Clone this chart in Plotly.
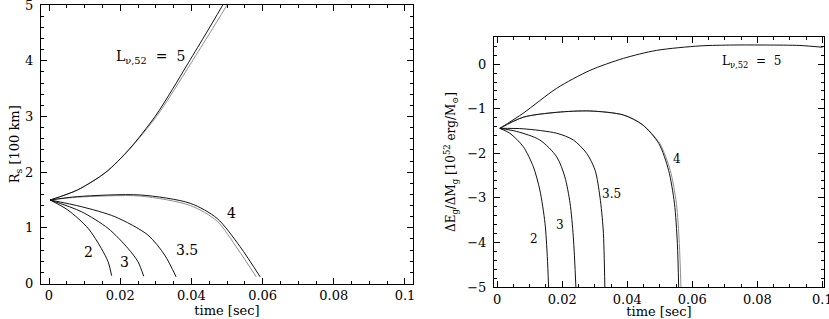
import plotly.graph_objects as go

# ---------------- Left panel: shock radius R_s [100 km] vs time [sec]
t_r_2 = [0.0003, 0.0053, 0.0110, 0.0147, 0.0166, 0.0176]
r_2 = [1.50, 1.32, 0.99, 0.63, 0.39, 0.14]

t_r_3 = [0.0003, 0.0091, 0.0166, 0.0222, 0.0250, 0.0266]
r_3 = [1.50, 1.29, 0.99, 0.63, 0.39, 0.13]

t_r_35 = [0.0003, 0.0091, 0.0185, 0.0278, 0.0325, 0.0357]
r_35 = [1.50, 1.38, 1.20, 0.87, 0.51, 0.12]

t_r_4a = [0.0003, 0.0080, 0.0256, 0.0397, 0.0472, 0.0537, 0.0593]
r_4a = [1.50, 1.56, 1.59, 1.44, 1.17, 0.66, 0.12]
t_r_4b = [0.0003, 0.0080, 0.0256, 0.0397, 0.0472, 0.0530, 0.0582]
r_4b = [1.50, 1.55, 1.57, 1.40, 1.12, 0.62, 0.12]

t_r_5a = [0.0003, 0.0080, 0.0160, 0.0225, 0.0298, 0.0346, 0.0392, 0.0442, 0.0488]
r_5a = [1.50, 1.68, 2.00, 2.41, 3.00, 3.48, 3.97, 4.50, 5.00]
t_r_5b = [0.0003, 0.0080, 0.0160, 0.0226, 0.0302, 0.0352, 0.0400, 0.0452, 0.0500]
r_5b = [1.50, 1.68, 2.00, 2.41, 3.00, 3.48, 3.97, 4.50, 5.00]

# ---------------- Right panel: dE_g/dM_g [1e52 erg/Msun] vs time [sec]
t_e_2 = [0.0008, 0.0039, 0.0080, 0.0111, 0.0131, 0.0147, 0.0154, 0.0158]
e_2 = [-1.44, -1.55, -1.85, -2.30, -2.82, -3.57, -4.32, -5.00]

t_e_3 = [0.0008, 0.0060, 0.0131, 0.0183, 0.0208, 0.0224, 0.0234, 0.0242]
e_3 = [-1.44, -1.51, -1.70, -2.08, -2.53, -3.12, -3.87, -5.00]

t_e_35 = [0.0008, 0.0080, 0.0183, 0.0234, 0.0275, 0.0301, 0.0316, 0.0326, 0.0331]
e_35 = [-1.44, -1.45, -1.55, -1.70, -2.00, -2.38, -2.98, -3.72, -5.00]

t_e_4a = [0.0008, 0.0080, 0.0183, 0.0285, 0.0388, 0.0447, 0.0497, 0.0527, 0.0545, 0.0554, 0.0558]
e_4a = [-1.44, -1.19, -1.08, -1.05, -1.14, -1.36, -1.78, -2.38, -3.12, -4.02, -5.00]
t_e_4b = [0.0008, 0.0080, 0.0183, 0.0285, 0.0388, 0.0447, 0.0500, 0.0532, 0.0551, 0.0560, 0.0565]
e_4b = [-1.44, -1.19, -1.08, -1.05, -1.14, -1.36, -1.78, -2.38, -3.12, -4.02, -5.00]

t_e_5 = [0.0008, 0.0080, 0.0183, 0.0285, 0.0388, 0.0490, 0.0624, 0.0726, 0.0829, 0.0931, 0.1000]
e_5 = [-1.44, -1.10, -0.54, -0.14, 0.13, 0.31, 0.41, 0.43, 0.43, 0.42, 0.38]

NB = "\u00a0"
LBL5 = "L<sub>ν,52</sub>" + NB + NB + "=" + NB + NB + "5"

# curve labels: (text, t, value)
left_labels = [(LBL5, 0.0284, 4.07), ("4", 0.0514, 1.26),
               ("3.5", 0.0387, 0.60), ("2", 0.0111, 0.57), ("3", 0.0211, 0.39)]
right_labels = [(LBL5, 0.0783, 0.06), ("4", 0.0553, -2.13),
                ("3.5", 0.0352, -2.91), ("3", 0.0193, -3.61), ("2", 0.0113, -3.93)]

BLACK = "#111111"
GRAY = "#8f8f8f"
FONT = "DejaVu Serif"

fig = go.Figure()


def add(t, y, xa, ya, color):
    fig.add_trace(go.Scatter(
        x=t, y=y, xaxis=xa, yaxis=ya, mode="lines",
        line=dict(color=color, width=1, shape="spline", smoothing=0.8),
        showlegend=False, hoverinfo="skip"))


add(t_r_5b, r_5b, "x", "y", GRAY)
add(t_r_5a, r_5a, "x", "y", BLACK)
add(t_r_4b, r_4b, "x", "y", GRAY)
add(t_r_4a, r_4a, "x", "y", BLACK)
add(t_r_35, r_35, "x", "y", BLACK)
add(t_r_3, r_3, "x", "y", BLACK)
add(t_r_2, r_2, "x", "y", BLACK)

add(t_e_5, e_5, "x2", "y2", BLACK)
add(t_e_4b, e_4b, "x2", "y2", GRAY)
add(t_e_4a, e_4a, "x2", "y2", BLACK)
add(t_e_35, e_35, "x2", "y2", BLACK)
add(t_e_3, e_3, "x2", "y2", BLACK)
add(t_e_2, e_2, "x2", "y2", BLACK)

axis_common = dict(
    showline=True, linecolor="black", linewidth=1, mirror="allticks",
    ticks="inside", ticklen=6, tickwidth=1, tickcolor="black",
    showgrid=False, zeroline=False, automargin=False,
    tickfont=dict(family=FONT, size=13, color="black"),
)

fig.update_layout(
    width=829, height=319,
    margin=dict(l=41, r=5, t=5, b=32),
    paper_bgcolor="white", plot_bgcolor="white",
    font=dict(family=FONT, size=13, color="black"),
    xaxis=dict(axis_common, domain=[0, 0.4751], range=[-0.00225, 0.10225],
               tick0=0, dtick=0.02, anchor="y", ticklabeloverflow="allow",
               minor=dict(dtick=0.005, ticks="inside", ticklen=3, tickcolor="black"),
               title=dict(text="time [sec]", standoff=3, font=dict(family=FONT, size=13))),
    yaxis=dict(axis_common, domain=[0.0124, 1], range=[0, 5.002],
               tick0=0, dtick=1, anchor="x", ticklabelstandoff=4, ticklabeloverflow="allow",
               minor=dict(dtick=0.2, ticks="inside", ticklen=3, tickcolor="black"),
               title=dict(text="R<sub>s</sub> [100 km]", standoff=2, font=dict(family=FONT, size=13))),
    xaxis2=dict(axis_common, domain=[0.5785, 1], range=[-0.001, 0.1005],
                tick0=0, dtick=0.02, anchor="y2", ticklabeloverflow="allow",
                minor=dict(dtick=0.005, ticks="inside", ticklen=3, tickcolor="black"),
                title=dict(text="time [sec]", standoff=3, font=dict(family=FONT, size=13))),
    yaxis2=dict(axis_common, domain=[0, 0.8865], range=[-5, 0.61],
                tick0=0, dtick=1, anchor="x2", ticklabelstandoff=4, ticklabeloverflow="allow",
                minor=dict(dtick=0.2, ticks="inside", ticklen=3, tickcolor="black"),
                title=dict(text="ΔE<sub>g</sub>/ΔM<sub>g</sub> [10<sup>52</sup> erg/M<sub>⊙</sub>]",
                           standoff=8, font=dict(family=FONT, size=12))),
)

for txt, x, y in left_labels:
    fig.add_annotation(x=x, y=y, xref="x", yref="y", text=txt, showarrow=False,
                       font=dict(family=FONT, size=14, color="black"))
for txt, x, y in right_labels:
    fig.add_annotation(x=x, y=y, xref="x2", yref="y2", text=txt, showarrow=False,
                       font=dict(family=FONT, size=12, color="black"))

fig.write_html("out.html", config={"displayModeBar": False},
               post_script="document.body.style.margin='0';")
